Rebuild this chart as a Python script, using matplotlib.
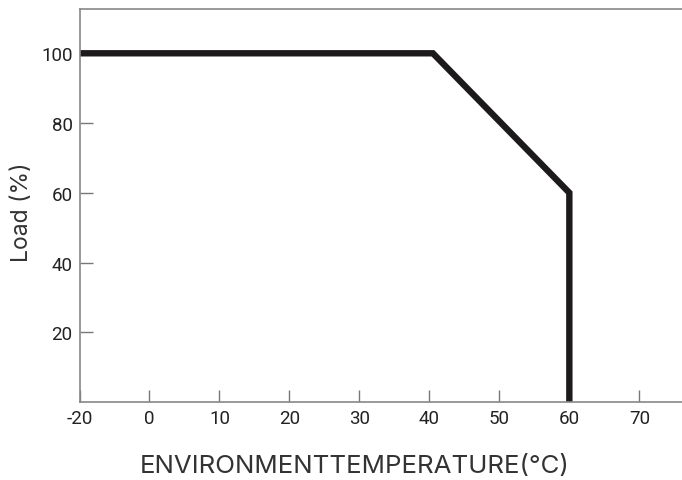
import matplotlib.pyplot as plt

# derating curve (temperature in C, load in %)
temp = [-20, 40.5, 60, 60]
load = [100, 100, 60, 0]

# the x axis is spaced evenly per tick, -20 sits one step left of 0
tick_vals = [-20, 0, 10, 20, 30, 40, 50, 60, 70]
tick_pos = [-10, 0, 10, 20, 30, 40, 50, 60, 70]
y_ticks = [20, 40, 60, 80, 100]


def to_pos(t):
	if t < 0:
		return t / 2.0
	return t


plt.rcParams['font.family'] = ['Roboto', 'DejaVu Sans']

fig = plt.figure(figsize=(6.82, 4.81), dpi=100)
ax = fig.add_axes([0.1166, 0.1622, 0.8834, 0.8170])

ax.plot([to_pos(t) for t in temp], load, color='#1c1a1a', lw=4.6,
	solid_joinstyle='miter', solid_capstyle='butt')

ax.set_xlim(-10, 76.1)
ax.set_ylim(0, 112.7)
ax.set_xticks(tick_pos)
ax.set_xticklabels([str(v) for v in tick_vals])
ax.set_yticks(y_ticks)

ax.tick_params(direction='in', length=9, width=1, color='#777777',
	labelsize=13.5, labelcolor='#222222', pad=5)
for s in ['left', 'bottom', 'top']:
	ax.spines[s].set_color('#888888')
	ax.spines[s].set_linewidth(1.2)
ax.spines['right'].set_visible(False)

ax.set_ylabel('Load (%)', fontsize=16.5, color='#333333', family=['Inter', 'DejaVu Sans'])
ax.yaxis.set_label_coords(-0.077, 0.486)
fig.text(0.5205, 0.031, 'ENVIRONMENTTEMPERATURE(°C)', fontsize=18.6, color='#333333',
	family=['Inter', 'DejaVu Sans'], ha='center', va='center')

fig.savefig('out.png', dpi=100)
